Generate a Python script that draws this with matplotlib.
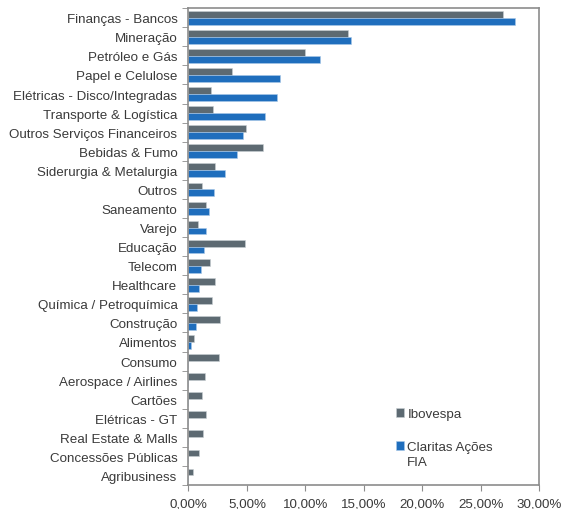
import numpy as np
import matplotlib
matplotlib.use("Agg")
import matplotlib.pyplot as plt
from matplotlib.ticker import FuncFormatter, FixedLocator

plt.rcParams['font.family'] = ['Liberation Sans', 'DejaVu Sans']

# Sector names (top to bottom)
setores = [
    'Finanças - Bancos', 'Mineração', 'Petróleo e Gás', 'Papel e Celulose',
    'Elétricas - Disco/Integradas', 'Transporte & Logística',
    'Outros Serviços Financeiros', 'Bebidas & Fumo', 'Siderurgia & Metalurgia',
    'Outros', 'Saneamento', 'Varejo', 'Educação', 'Telecom', 'Healthcare',
    'Química / Petroquímica', 'Construção', 'Alimentos', 'Consumo',
    'Aerospace / Airlines', 'Cartões', 'Elétricas - GT', 'Real Estate & Malls',
    'Concessões Públicas', 'Agribusiness',
]
# weights in %
ibovespa = [26.9, 13.65, 10.0, 3.75, 1.94, 2.11, 4.94, 6.34, 2.31, 1.17, 1.49,
            0.83, 4.8, 1.83, 2.23, 2.0, 2.71, 0.46, 2.6, 1.4, 1.17, 1.51, 1.2,
            0.94, 0.37]
claritas = [27.9, 13.9, 11.25, 7.86, 7.54, 6.54, 4.66, 4.17, 3.11, 2.17, 1.74,
            1.51, 1.29, 1.06, 0.91, 0.74, 0.6, 0.23, 0, 0, 0, 0, 0, 0, 0]

cor_ibov = '#5d6a72'
cor_clar = '#1f6ebd'
cinza = '#8c8c8c'
cor_txt = '#3a3a3a'
fs = 9.6

fig = plt.figure(figsize=(5.61, 5.10), dpi=100)
ax = fig.add_axes([0.336, 0.047, 0.625, 0.935])

n = len(setores)
y = np.arange(n)
h = 0.36
ax.barh(y - h / 2, ibovespa, height=h, color=cor_ibov, label='Ibovespa',
        edgecolor='#c9cfd3', linewidth=0.4)
ax.barh(y + h / 2, claritas, height=h, color=cor_clar,
        label='Claritas Ações', edgecolor='#a9c8e8', linewidth=0.4)

ax.set_ylim(n - 0.5, -0.5)
ax.set_xlim(0, 30)
ax.set_yticks(y)
ax.set_yticklabels(setores)
ax.yaxis.set_minor_locator(FixedLocator(np.arange(-0.5, n, 1)))
ax.tick_params(axis='y', which='major', length=0, pad=8, labelsize=fs,
               labelcolor=cor_txt)
ax.tick_params(axis='y', which='minor', length=4, color=cinza, direction='out')

ax.set_xticks(np.arange(0, 31, 5))
ax.xaxis.set_major_formatter(FuncFormatter(
    lambda v, p: ('%.2f%%' % v).replace('.', ',')))
ax.tick_params(axis='x', length=4, color=cinza, labelsize=fs,
               labelcolor=cor_txt, pad=5)

for s in ax.spines.values():
    s.set_color(cinza)
    s.set_linewidth(1.2)

leg = ax.legend(loc='upper left', bbox_to_anchor=(396 / 561, 1 - 409 / 510),
                bbox_transform=fig.transFigure, frameon=False, fontsize=fs,
                handlelength=0.6, handleheight=0.6, handletextpad=0.25,
                labelspacing=1.6, borderpad=0, borderaxespad=0,
                labelcolor=cor_txt)

# second line of the Claritas label, kept under the first line
fig.canvas.draw()
bb = leg.get_texts()[1].get_window_extent()
x0, y0 = fig.transFigure.inverted().transform((bb.x0, bb.y0))
fig.text(x0, y0 - 3 / 510, 'FIA', fontsize=fs, color=cor_txt,
         ha='left', va='top')

fig.savefig('out.png', dpi=100)
